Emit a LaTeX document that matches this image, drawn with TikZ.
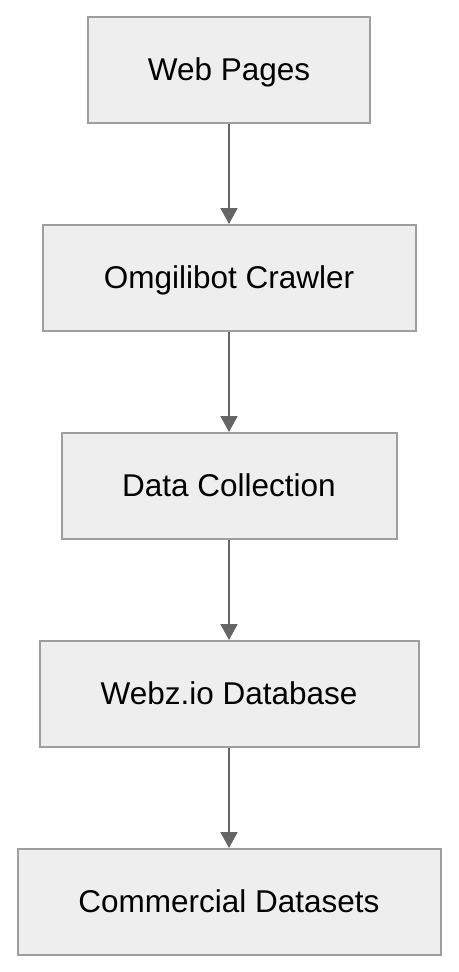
\documentclass[tikz,border=0pt]{standalone}
\usepackage{fontspec}
\setmainfont{Liberation Sans}
\usepackage{xcolor}
\usetikzlibrary{positioning}
\usetikzlibrary{arrows.meta}

\definecolor{boxline}{HTML}{9E9E9E}
\definecolor{boxfill}{HTML}{EEEEEE}
\definecolor{flowgray}{HTML}{666666}

\begin{document}
\begin{tikzpicture}[x=1pt,y=1pt,node distance=100pt,
  box/.style={draw=boxline,fill=boxfill,line width=2pt,minimum height=106pt,inner sep=0pt,
    text depth=2pt,font=\fontsize{31.5}{38}\selectfont},
  flow/.style={-{Triangle[length=16pt,width=17pt]},draw=flowgray,fill=flowgray,line width=2pt}]
\useasboundingbox (0,0) rectangle (458,-972);
\node[box,minimum width=282pt] (web)                    at (229,-70) {Web Pages};
\node[box,minimum width=373pt] (crawler) [below=of web]     {Omgilibot Crawler};
\node[box,minimum width=335pt] (collect) [below=of crawler] {Data Collection};
\node[box,minimum width=379pt] (db)      [below=of collect] {Webz.io Database};
\node[box,minimum width=423pt] (sets)    [below=of db]      {Commercial Datasets};

\draw[flow] (web) -- (crawler);
\draw[flow] (crawler) -- (collect);
\draw[flow] (collect) -- (db);
\draw[flow] (db) -- (sets);
\end{tikzpicture}
\end{document}
